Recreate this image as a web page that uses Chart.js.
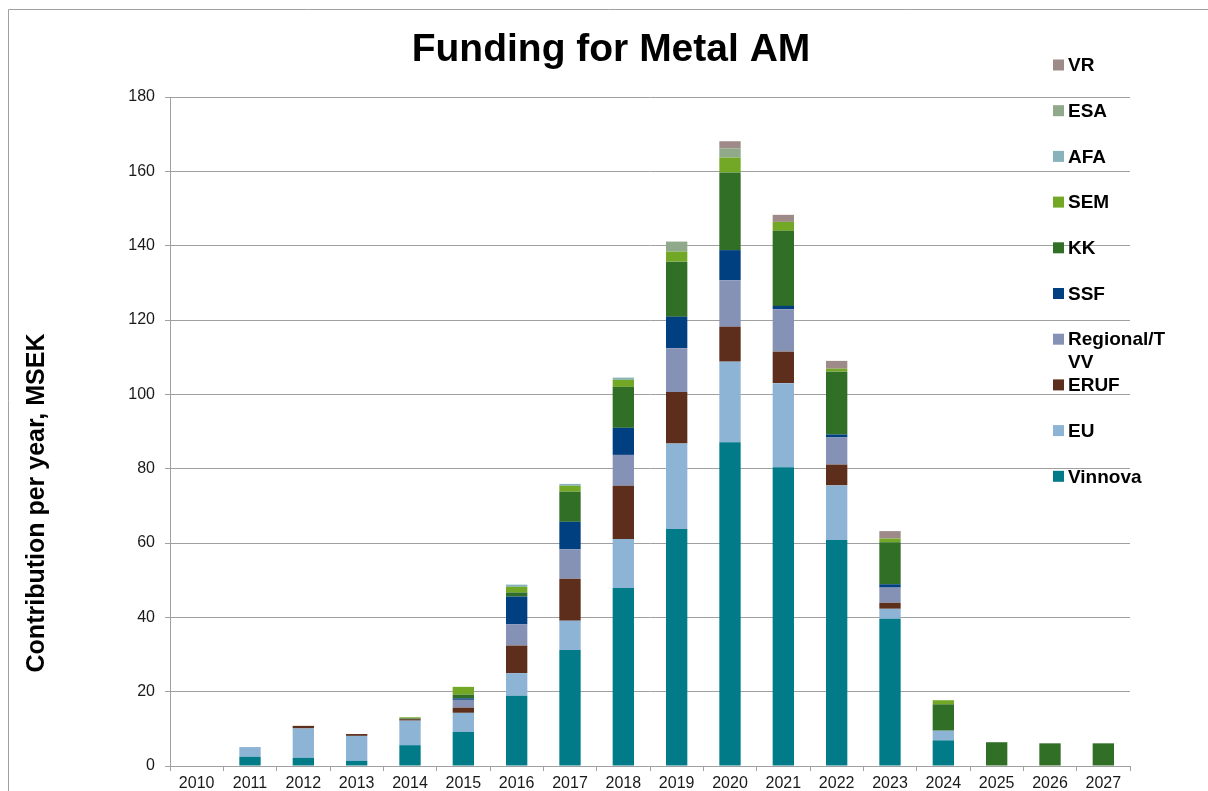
<!DOCTYPE html>
<html>
<head>
<meta charset="utf-8">
<title>Funding for Metal AM</title>
<script src="https://cdn.jsdelivr.net/npm/chart.js@4/dist/chart.umd.min.js"></script>
<style>
    html, body { margin: 0; padding: 0; background: #fff; overflow: hidden; }
    #fundingChart { display: block; }
</style>
</head>
<body>
<canvas id="fundingChart" width="1208" height="791"></canvas>
<script>
// values, MSEK per year
const years = ['2010', '2011', '2012', '2013', '2014', '2015', '2016', '2017', '2018',
               '2019', '2020', '2021', '2022', '2023', '2024', '2025', '2026', '2027'];

const vinnova  = [0, 2.5, 2.2, 1.4, 5.6, 9.2, 18.9, 31.2, 47.9, 63.8, 87.1, 80.4, 60.8, 39.6, 6.9, 0, 0, 0];
const eu       = [0, 2.6, 7.9, 6.7, 6.6, 5.1, 6.1, 7.9, 13.2, 23.0, 21.7, 22.6, 14.7, 2.7, 2.6, 0, 0, 0];
const eruf     = [0, 0, 0.7, 0.5, 0.4, 1.4, 7.4, 11.3, 14.3, 13.8, 9.4, 8.5, 5.6, 1.6, 0, 0, 0, 0];
const regional = [0, 0, 0, 0, 0, 2.1, 5.7, 7.9, 8.3, 11.8, 12.5, 11.4, 7.3, 4.1, 0, 0, 0, 0];
const ssf      = [0, 0, 0, 0, 0, 0.4, 7.5, 7.4, 7.3, 8.5, 8.1, 0.9, 0.8, 0.9, 0, 0, 0, 0];
const kk       = [0, 0, 0, 0, 0.2, 1.0, 1.1, 8.1, 11.0, 14.8, 20.9, 20.2, 16.9, 11.3, 7.1, 6.4, 6.1, 6.1];
const sem      = [0, 0, 0, 0, 0.3, 2.1, 1.5, 1.6, 1.9, 2.7, 4.0, 2.4, 0.8, 1.0, 1.1, 0, 0, 0];
const afa      = [0, 0, 0, 0, 0, 0, 0.6, 0.5, 0.6, 0, 0, 0, 0, 0, 0, 0, 0, 0];
const esa      = [0, 0, 0, 0, 0, 0, 0, 0, 0, 2.7, 2.5, 0, 0, 0, 0, 0, 0, 0];
const vr       = [0, 0, 0, 0, 0, 0, 0, 0, 0, 0, 1.9, 1.9, 2.1, 2.0, 0, 0, 0, 0];

const seriesNames  = ['Vinnova', 'EU', 'ERUF', 'Regional/TVV', 'SSF', 'KK', 'SEM', 'AFA', 'ESA', 'VR'];
const seriesValues = [vinnova, eu, eruf, regional, ssf, kk, sem, afa, esa, vr];
const seriesColors = ['#007b87', '#8db3d5', '#5c2e1b', '#8591b5', '#003f80',
                      '#316e26', '#73a826', '#88b3bb', '#8fa98a', '#9e8a88'];

const yTicks = { min: 0, max: 180, step: 20 };

const fontFamily = '"Liberation Sans", Arial, sans-serif';
const gridGray = '#a0a0a0';

// title, rotated axis title, frame and the legend on top of the plot
const decorPlugin = {
    id: 'decor',
    beforeDraw(chart) {
        const ctx = chart.ctx;
        ctx.save();
        ctx.strokeStyle = gridGray;
        ctx.lineWidth = 1;
        ctx.beginPath();
        ctx.moveTo(8.5, chart.height);
        ctx.lineTo(8.5, 9.5);
        ctx.lineTo(chart.width, 9.5);
        ctx.stroke();
        ctx.restore();
    },
    afterDraw(chart) {
        const ctx = chart.ctx;
        ctx.save();
        ctx.fillStyle = '#000';

        ctx.font = `bold 39px ${fontFamily}`;
        ctx.textAlign = 'center';
        ctx.textBaseline = 'alphabetic';
        ctx.fillText('Funding for Metal AM', 611, 61);

        ctx.save();
        ctx.translate(44, 503);
        ctx.rotate(-Math.PI / 2);
        ctx.font = `bold 25px ${fontFamily}`;
        ctx.fillText('Contribution per year, MSEK', 0, 0);
        ctx.restore();

        // legend, last series on top like the original
        ctx.font = `bold 19px ${fontFamily}`;
        ctx.textAlign = 'left';
        ctx.textBaseline = 'middle';
        const items = chart.data.datasets.slice().reverse();
        items.forEach((ds, i) => {
            const cy = 65 + i * 45.7;
            ctx.fillStyle = ds.backgroundColor;
            ctx.fillRect(1053, cy - 5.5, 11, 11);
            ctx.fillStyle = '#000';
            wrapText(ctx, ds.label, 102).forEach((line, j) => {
                ctx.fillText(line, 1068, cy + 1 + j * 23);
            });
        });
        ctx.restore();
    }
};

function wrapText(ctx, text, maxWidth) {
    const lines = [];
    let line = '';
    for (const ch of text) {
        if (line && ctx.measureText(line + ch).width > maxWidth) {
            lines.push(line);
            line = ch;
        } else {
            line += ch;
        }
    }
    lines.push(line);
    return lines;
}

const ctx = document.getElementById('fundingChart').getContext('2d');
new Chart(ctx, {
    type: 'bar',
    data: {
        labels: years,
        datasets: seriesNames.map((name, i) => ({
            label: name,
            data: seriesValues[i],
            backgroundColor: seriesColors[i],
            borderWidth: 0,
            categoryPercentage: 1,
            barPercentage: 0.4
        }))
    },
    options: {
        responsive: false,
        animation: false,
        layout: {
            padding: { top: 97, right: 78, bottom: 0, left: 0 }
        },
        plugins: {
            legend: { display: false },
            title: { display: false },
            tooltip: { enabled: false }
        },
        scales: {
            x: {
                stacked: true,
                offset: true,
                grid: {
                    offset: true,
                    drawOnChartArea: false,
                    drawTicks: true,
                    tickLength: 5,
                    color: gridGray
                },
                border: { color: gridGray },
                ticks: {
                    autoSkip: false,
                    maxRotation: 0,
                    padding: 3,
                    color: '#1a1a1a',
                    font: { family: fontFamily, size: 16 }
                },
                afterFit(scale) { scale.height = 25; }
            },
            y: {
                stacked: true,
                min: yTicks.min,
                max: yTicks.max,
                grid: {
                    color: gridGray,
                    drawTicks: true,
                    tickLength: 5
                },
                border: { color: gridGray },
                ticks: {
                    stepSize: yTicks.step,
                    padding: 10,
                    color: '#1a1a1a',
                    font: { family: fontFamily, size: 16 }
                },
                afterFit(scale) { scale.width = 170; }
            }
        }
    },
    plugins: [decorPlugin]
});
</script>
</body>
</html>
